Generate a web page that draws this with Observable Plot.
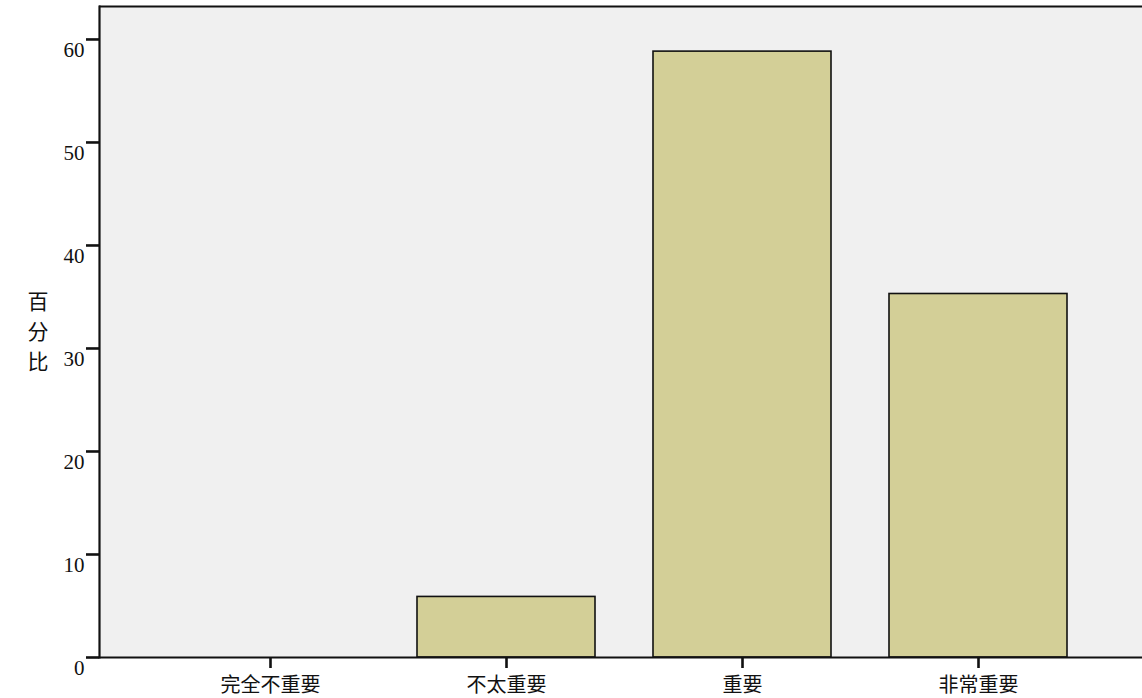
<!DOCTYPE html>
<html>
<head>
<meta charset="utf-8">
<script src="https://cdn.jsdelivr.net/npm/d3@7"></script>
<script src="https://cdn.jsdelivr.net/npm/@observablehq/plot@0.6"></script>
<style>
  html, body { margin: 0; padding: 0; background: #ffffff; overflow: hidden; }
  #chart svg { display: block; }
</style>
</head>
<body>
<div id="chart"></div>
<script>
const categories = ["完全不重要", "不太重要", "重要", "非常重要"];
const percents = [0, 5.88, 58.82, 35.29];
const yTicks = [0, 10, 20, 30, 40, 50, 60];
const yTitleChars = ["百", "分", "比"];

const data = categories.map((c, i) => ({category: c, pct: percents[i]}));
const yMax = 63.2;

const titleMarks = yTitleChars.map((ch, i) =>
  Plot.text([ch], {frameAnchor: "left", dx: -72, dy: (i - 1) * 30, fontSize: 21, fill: "#111", fontFamily: "'Noto Sans CJK SC', sans-serif"})
);

const chart = Plot.plot({
  width: 1142,
  height: 698,
  marginLeft: 99,
  marginRight: 0,
  marginTop: 6,
  marginBottom: 41,
  style: {fontFamily: "'Liberation Serif', 'Noto Sans CJK SC', serif", fontSize: "21px", color: "#111", background: "#ffffff"},
  x: {
    domain: categories,
    range: [99, 1149],
    paddingInner: 0.2458,
    paddingOuter: 0.347,
    axis: null
  },
  y: {
    domain: [0, yMax],
    axis: null
  },
  marks: [
    Plot.frame({fill: "#f0f0f0", stroke: null}),
    Plot.barY(data, {x: "category", y: "pct", fill: "#d3cf97", stroke: "#111", strokeWidth: 1.6}),
    Plot.ruleY([0], {stroke: "#111", strokeWidth: 2.2}),
    Plot.ruleY([yMax], {stroke: "#111", strokeWidth: 2}),
    Plot.frame({anchor: "left", stroke: "#111", strokeWidth: 2.2}),
    Plot.axisY({ticks: yTicks, label: null, tickSize: 13, tickPadding: 2, strokeWidth: 2.6, stroke: "#111", fill: "#111", fontSize: 21, letterSpacing: "1px"}),
    Plot.axisX({label: null, tickSize: 11, tickPadding: 9, strokeWidth: 2.6, stroke: "#111", fill: "#111", fontSize: 20, fontFamily: "'Noto Sans CJK SC', sans-serif"}),
    ...titleMarks
  ]
});

d3.select(chart).selectAll("[aria-label='y-axis tick label'] text").attr("dy", "0.5em");

document.getElementById("chart").appendChild(chart);
</script>
</body>
</html>
